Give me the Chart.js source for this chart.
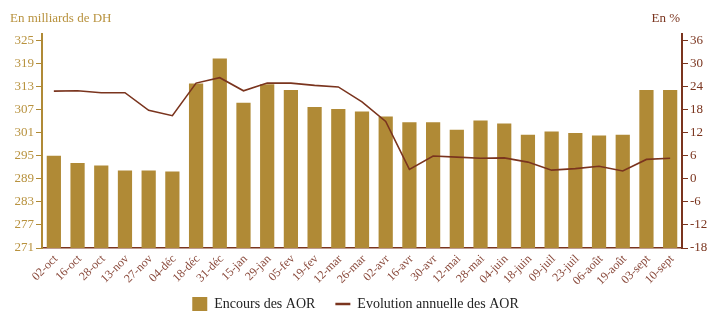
<!DOCTYPE html>
<html>
<head>
<meta charset="utf-8">
<script src="https://cdn.jsdelivr.net/npm/chart.js@4"></script>
<style>
  html, body { margin: 0; padding: 0; background: #fff; }
  #wrap { width: 711px; height: 312px; }
</style>
</head>
<body>
<div id="wrap"><canvas id="aorChart" width="711" height="312"></canvas></div>
<script>
// Dates of the auctions
const dates = ["02-oct", "16-oct", "28-oct", "13-nov", "27-nov", "04-déc", "18-déc", "31-déc",
    "15-jan", "29-jan", "05-fev", "19-fev", "12-mar", "26-mar", "02-avr", "16-avr", "30-avr",
    "12-mai", "28-mai", "04-juin", "18-juin", "09-juil", "23-juil", "06-août", "19-août",
    "03-sept", "10-sept"];

// Encours des AOR, en milliards de DH (left axis)
const encours = [295.0, 293.1, 292.5, 291.2, 291.2, 290.9, 313.8, 320.3, 308.8, 313.6,
    312.1, 307.7, 307.2, 306.5, 305.2, 303.7, 303.7, 301.8, 304.2, 303.4, 300.5, 301.3,
    300.9, 300.3, 300.5, 312.1, 312.1];

// Evolution annuelle des AOR, en % (right axis)
const evolution = [22.9, 23.0, 22.5, 22.5, 17.9, 16.5, 25.0, 26.4, 23.0, 25.0, 25.0,
    24.4, 24.0, 20.1, 15.0, 2.5, 6.0, 5.7, 5.4, 5.5, 4.4, 2.3, 2.7, 3.3, 2.1, 5.1, 5.4];

// Axis ticks (major every 6, minor marks every 3)
const leftTicks = [271, 274, 277, 280, 283, 286, 289, 292, 295, 298, 301, 304, 307, 310,
    313, 316, 319, 322, 325];
const rightTicks = [-18, -15, -12, -9, -6, -3, 0, 3, 6, 9, 12, 15, 18, 21, 24, 27, 30, 33, 36];

const gold = "#b08a36";
const goldText = "#b8923e";
const brown = "#7a341e";
const serif = "'Liberation Serif', 'DejaVu Serif', serif";

// Draws the two small axis captions above the axes
const axisCaptions = {
    id: "axisCaptions",
    afterDraw(chart) {
        const ctx = chart.ctx;
        const area = chart.chartArea;
        ctx.save();
        ctx.font = "13px " + serif;
        ctx.textBaseline = "alphabetic";
        ctx.fillStyle = goldText;
        ctx.textAlign = "left";
        ctx.fillText("En milliards de DH", 10, 22);
        ctx.fillStyle = brown;
        ctx.textAlign = "right";
        ctx.fillText("En %", area.right - 2, 22);
        ctx.restore();
    }
};

// Legend padding is wide (for item spacing), so pull the legend box up a bit
const legendNudge = {
    id: "legendNudge",
    afterLayout(chart) {
        if (chart.legend) {
            chart.legend.top -= 12;
            chart.legend.bottom -= 12;
        }
    }
};

const ctx = document.getElementById("aorChart").getContext("2d");

new Chart(ctx, {
    data: {
        labels: dates,
        datasets: [
            {
                type: "line",
                label: "Evolution annuelle des AOR",
                data: evolution,
                yAxisID: "yRight",
                borderColor: brown,
                backgroundColor: brown,
                borderWidth: 1.6,
                pointRadius: 0,
                tension: 0,
                order: 0
            },
            {
                type: "bar",
                label: "Encours des AOR",
                data: encours,
                yAxisID: "yLeft",
                backgroundColor: gold,
                borderWidth: 0,
                barPercentage: 0.6,
                categoryPercentage: 1.0,
                order: 1
            }
        ]
    },
    options: {
        responsive: false,
        animation: false,
        layout: {
            padding: { top: 34, left: 0, right: 0, bottom: -21 }
        },
        plugins: {
            legend: {
                position: "bottom",
                reverse: true,
                labels: {
                    font: { family: serif, size: 14 },
                    color: "#222",
                    usePointStyle: true,
                    pointStyleWidth: 15,
                    boxHeight: 14,
                    padding: 20,
                    generateLabels(chart) {
                        const items = Chart.defaults.plugins.legend.labels.generateLabels(chart);
                        items.forEach(item => {
                            const ds = chart.data.datasets[item.datasetIndex];
                            item.pointStyle = ds.type === "line" ? "line" : "rect";
                            item.lineWidth = ds.type === "line" ? 2.5 : 0;
                            item.strokeStyle = ds.type === "line" ? brown : gold;
                        });
                        return items;
                    }
                }
            },
            tooltip: { enabled: false }
        },
        scales: {
            x: {
                offset: true,
                grid: { display: false, drawTicks: false },
                border: { display: true, color: brown, width: 1.5 },
                ticks: {
                    color: "#8a4a3c",
                    font: { family: serif, size: 12 },
                    maxRotation: 45,
                    minRotation: 45,
                    autoSkip: false,
                    labelOffset: 2,
                    padding: 4
                },
                afterFit(scale) { scale.height = 41; }
            },
            yLeft: {
                position: "left",
                min: 271,
                max: 326.7,
                afterBuildTicks(scale) {
                    scale.ticks = leftTicks.map(v => ({ value: v }));
                },
                ticks: {
                    color: goldText,
                    font: { family: serif, size: 13 },
                    padding: 2,
                    callback: v => ((v - 271) % 6 === 0 ? v : "")
                },
                grid: { drawOnChartArea: false, color: gold, tickLength: 6, tickWidth: 1 },
                border: { display: true, color: gold, width: 2 },
                afterFit(scale) { scale.width = 42; }
            },
            yRight: {
                position: "right",
                min: -18,
                max: 37.8,
                afterBuildTicks(scale) {
                    scale.ticks = rightTicks.map(v => ({ value: v }));
                },
                ticks: {
                    color: brown,
                    font: { family: serif, size: 13 },
                    padding: 2,
                    callback: v => ((v + 18) % 6 === 0 ? v : "")
                },
                grid: { drawOnChartArea: false, color: brown, tickLength: 6, tickWidth: 1 },
                border: { display: true, color: brown, width: 2 },
                afterFit(scale) { scale.width = 29; }
            }
        }
    },
    plugins: [axisCaptions, legendNudge]
});
</script>
</body>
</html>
